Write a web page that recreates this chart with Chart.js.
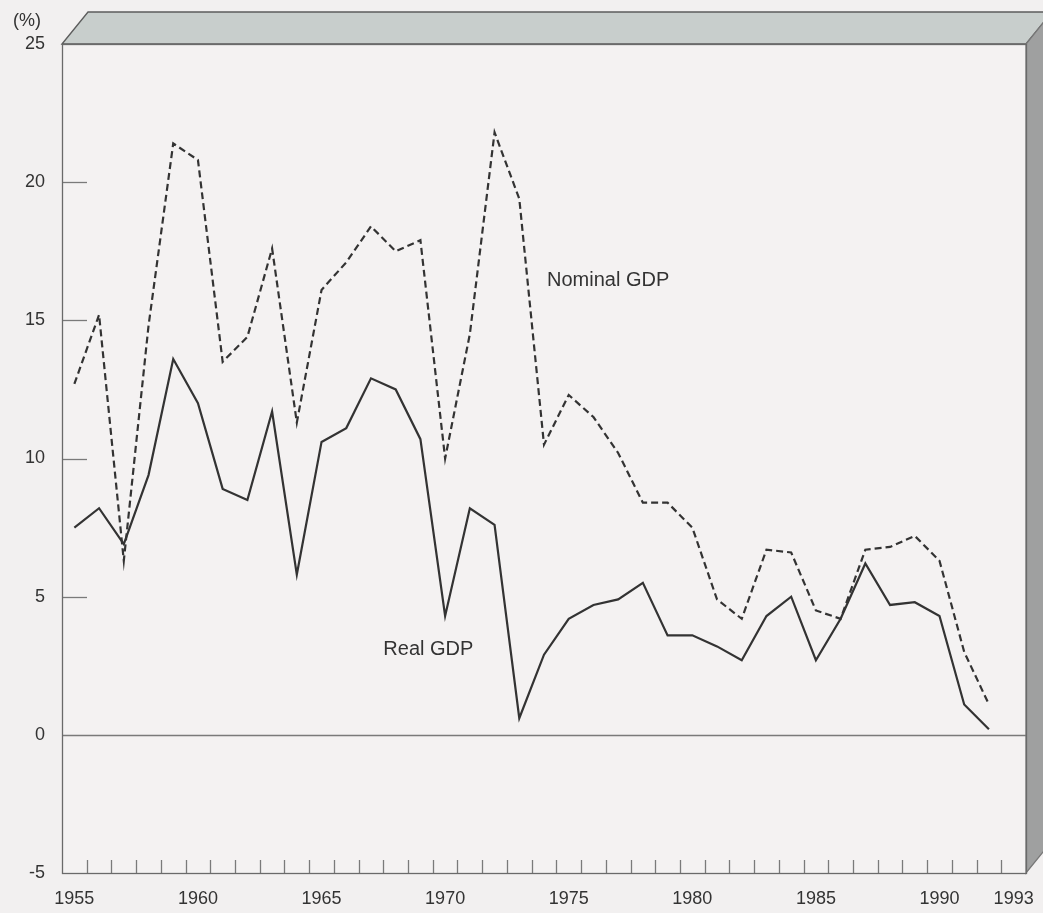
<!DOCTYPE html>
<html>
<head>
<meta charset="utf-8">
<script src="https://cdn.jsdelivr.net/npm/chart.js@4.4.1/dist/chart.umd.min.js"></script>
<style>
  html, body { margin: 0; padding: 0; background: #f2f0f0; }
  #wrap { width: 1043px; height: 913px; }
</style>
</head>
<body>
<div id="wrap"><canvas id="gdpchart" width="1043" height="913"></canvas></div>
<script>
// fiscal years on the x axis (1993 band is left empty)
const years = [];
for (let y = 1955; y <= 1993; y++) years.push(String(y));
const shownYears = ['1955', '1960', '1965', '1970', '1975', '1980', '1985', '1990', '1993'];

// growth rates, %
const nominalGdp = [12.7, 15.2, 6.3, 14.8, 21.4, 20.8, 13.5, 14.4, 17.6, 11.3,
    16.1, 17.1, 18.4, 17.5, 17.9, 10.0, 14.5, 21.8, 19.4, 10.5,
    12.3, 11.5, 10.2, 8.4, 8.4, 7.5, 4.9, 4.2, 6.7, 6.6,
    4.5, 4.2, 6.7, 6.8, 7.2, 6.3, 3.0, 1.1, null];
const realGdp = [7.5, 8.2, 6.9, 9.4, 13.6, 12.0, 8.9, 8.5, 11.7, 5.8,
    10.6, 11.1, 12.9, 12.5, 10.7, 4.3, 8.2, 7.6, 0.6, 2.9,
    4.2, 4.7, 4.9, 5.5, 3.6, 3.6, 3.2, 2.7, 4.3, 5.0,
    2.7, 4.2, 6.2, 4.7, 4.8, 4.3, 1.1, 0.2, null];

const yTicks = [-5, 0, 5, 10, 15, 20, 25];

const INK = '#333333';
const FONT = '"Liberation Sans", Arial, Helvetica, sans-serif';

// box look: top and right faces, frame lines, inner ticks, zero line, series labels
const boxPlugin = {
    id: 'box',
    beforeDraw(chart) {
        const c = chart.ctx;
        const a = chart.chartArea;
        const dx = 26, dy = 32;
        c.save();
        c.fillStyle = '#f2f0f0';
        c.fillRect(0, 0, chart.width, chart.height);
        c.fillStyle = '#f4f2f2';
        c.fillRect(a.left, a.top, a.right - a.left, a.bottom - a.top);

        // top face
        c.beginPath();
        c.moveTo(a.left, a.top);
        c.lineTo(a.left + dx, a.top - dy);
        c.lineTo(a.right + dx, a.top - dy);
        c.lineTo(a.right, a.top);
        c.closePath();
        c.fillStyle = '#c8cecc';
        c.fill();
        c.strokeStyle = '#5c5c5c';
        c.lineWidth = 1.3;
        c.stroke();

        // right face
        c.beginPath();
        c.moveTo(a.right, a.top);
        c.lineTo(a.right + dx, a.top - dy);
        c.lineTo(a.right + dx, a.bottom - dy);
        c.lineTo(a.right, a.bottom);
        c.closePath();
        c.fillStyle = '#9fa0a0';
        c.fill();
        c.strokeStyle = '#777';
        c.stroke();
        c.restore();
    },
    beforeDatasetsDraw(chart) {
        const c = chart.ctx;
        const a = chart.chartArea;
        const ys = chart.scales.y;
        const xs = chart.scales.x;
        c.save();
        c.strokeStyle = '#7a7a7a';
        c.lineWidth = 1.3;

        // zero line
        const y0 = Math.round(ys.getPixelForValue(0)) + 0.5;
        c.beginPath();
        c.moveTo(a.left, y0);
        c.lineTo(a.right, y0);
        c.stroke();

        // y ticks pointing inwards
        yTicks.forEach(v => {
            if (v === 0 || v === -5 || v === 25) return;
            const y = Math.round(ys.getPixelForValue(v)) + 0.5;
            c.beginPath();
            c.moveTo(a.left, y);
            c.lineTo(a.left + 25, y);
            c.stroke();
        });

        // x ticks at band boundaries, pointing up
        for (let i = 0; i < years.length - 1; i++) {
            const x = Math.round((xs.getPixelForValue(i) + xs.getPixelForValue(i + 1)) / 2) + 0.5;
            c.beginPath();
            c.moveTo(x, a.bottom);
            c.lineTo(x, a.bottom - 13);
            c.stroke();
        }
        c.restore();
    },
    afterDraw(chart) {
        const c = chart.ctx;
        const a = chart.chartArea;
        const ys = chart.scales.y;
        const xs = chart.scales.x;
        c.save();
        c.strokeStyle = '#6a6a6a';
        c.lineWidth = 1.3;
        c.strokeRect(a.left + 0.5, a.top + 0.5, a.right - a.left, a.bottom - a.top);

        c.fillStyle = INK;
        c.font = '18px ' + FONT;
        c.textAlign = 'right';
        c.textBaseline = 'middle';
        c.fillText('(%)', a.left - 21, a.top - 23);

        c.font = '20px ' + FONT;
        c.textAlign = 'left';
        c.textBaseline = 'alphabetic';
        const band = xs.getPixelForValue(1) - xs.getPixelForValue(0);
        c.fillText('Nominal GDP', xs.getPixelForValue(19) + 0.12 * band, ys.getPixelForValue(16.25));
        c.fillText('Real GDP', xs.getPixelForValue(12) + 0.5 * band, ys.getPixelForValue(2.9));
        c.restore();
    }
};

const ctx = document.getElementById('gdpchart').getContext('2d');
const config = {
    type: 'line',
    data: {
        labels: years,
        datasets: [{
                label: 'Nominal GDP',
                data: nominalGdp,
                borderColor: INK,
                borderWidth: 2.2,
                borderDash: [7, 4],
                pointRadius: 0,
                tension: 0,
                fill: false
            },
            {
                label: 'Real GDP',
                data: realGdp,
                borderColor: INK,
                borderWidth: 2.2,
                pointRadius: 0,
                tension: 0,
                fill: false
            }
        ]
    },
    options: {
        responsive: false,
        animation: false,
        layout: {
            padding: { top: 44, right: 17, bottom: 0, left: 0 }
        },
        plugins: {
            legend: { display: false },
            tooltip: { enabled: false }
        },
        scales: {
            x: {
                type: 'category',
                offset: true,
                grid: { display: false, drawTicks: false },
                border: { display: false },
                ticks: {
                    autoSkip: false,
                    maxRotation: 0,
                    padding: 15,
                    color: INK,
                    font: { family: FONT, size: 18 },
                    callback: function (value, index) {
                        const lab = years[index];
                        return shownYears.includes(lab) ? lab : '';
                    }
                },
                afterFit: (scale) => {
                    scale.height = 40;
                    scale.paddingLeft = 0;
                    scale.paddingRight = 0;
                }
            },
            y: {
                min: -5,
                max: 25,
                grid: { display: false, drawTicks: false },
                border: { display: false },
                ticks: {
                    stepSize: 5,
                    padding: 17,
                    color: INK,
                    font: { family: FONT, size: 18 }
                },
                afterFit: (scale) => {
                    scale.width = 62;
                    scale.paddingTop = 0;
                    scale.paddingBottom = 0;
                }
            }
        }
    },
    plugins: [boxPlugin]
};

const myChart = new Chart(ctx, config);
</script>
</body>
</html>
